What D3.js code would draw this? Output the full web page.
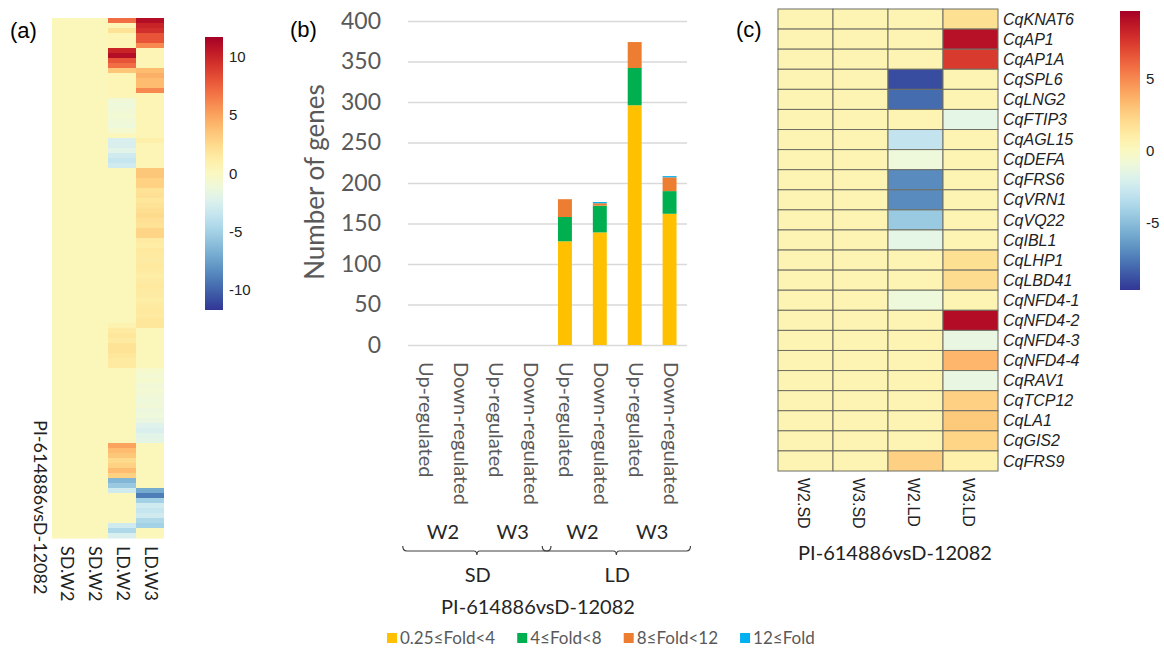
<!DOCTYPE html>
<html>
<head>
<meta charset="utf-8">
<script src="https://cdn.jsdelivr.net/npm/d3@7"></script>
<style>
  body { margin: 0; background: #fff; }
  svg { display: block; }
</style>
</head>
<body>
<svg class="vis" width="1164" height="661"></svg>
<script>

// ---- (a) heatmap: log2 fold change, one value per gene row (top to bottom)
const heatACols = ['SD.W2', 'SD.W2', 'LD.W2', 'LD.W3'];

const sdW2 = [
  0.3,0.3,0.3,0.3,0.3,0.3,0.3,0.3,0.3,0.3,0.3,0.3,0.3,
  0.3,0.3,0.3,0.3,0.3,0.3,0.3,0.3,0.3,0.3,0.3,0.3,0.3,
  0.3,0.3,0.3,0.3,0.3,0.3,0.3,0.3,0.3,0.3,0.3,0.3,0.3,
  0.3,0.3,0.3,0.3,0.3,0.3,0.3,0.3,0.3,0.3,0.3,0.3,0.3,
  0.3,0.3,0.3,0.3,0.3,0.3,0.3,0.3,0.3,0.3,0.3,0.3,0.3,
  0.3,0.3,0.3,0.3,0.3,0.3,0.3,0.3,0.3,0.3,0.3,0.3,0.3,
  0.3,0.3,0.3,0.3,0.3,0.3,0.3,0.3,0.3,0.3,0.3,0.3,0.3,
  0.3,0.3,0.3,0.3,0.3,0.3,0.3,0.3,0.3,0.3,0.3,0.3,0.3
];
const sdW3 = [
  0.3,0.3,0.3,0.3,0.3,0.3,0.3,0.3,0.3,0.3,0.3,0.3,0.3,
  0.3,0.3,0.3,0.3,0.3,0.3,0.3,0.3,0.3,0.3,0.3,0.3,0.3,
  0.3,0.3,0.3,0.3,0.3,0.3,0.3,0.3,0.3,0.3,0.3,0.3,0.3,
  0.3,0.3,0.3,0.3,0.3,0.3,0.3,0.3,0.3,0.3,0.3,0.3,0.3,
  0.3,0.3,0.3,0.3,0.3,0.3,0.3,0.3,0.3,0.3,0.3,0.3,0.3,
  0.3,0.3,0.3,0.3,0.3,0.3,0.3,0.3,0.3,0.3,0.3,0.3,0.3,
  0.3,0.3,0.3,0.3,0.3,0.3,0.3,0.3,0.3,0.3,0.3,0.3,0.3,
  0.3,0.3,0.3,0.3,0.3,0.3,0.3,0.3,0.3,0.3,0.3,0.3,0.3
];
const ldW2 = [
  7,0.5,2,0.5,0.5,0.5,10,11,8,7,
  3.5,0.5,0.5,0.5,0.5,0.5,-1,-1.2,-1,-0.8,
  -1,-1.2,-0.7,0.2,-2.5,-2.5,-2,-3,-3.5,-3,
  0.3,0.3,0.3,0.3,0.3,0.3,0.3,0.3,0.3,0.3,0.3,
  0.3,0.3,0.3,0.3,0.3,0.3,0.3,0.3,0.3,0.3,
  0.3,0.3,0.3,0.3,0.3,0.3,0.3,0.3,0.3,0.3,
  0.8,1.5,1.8,1.5,2,2,1.8,1.5,1.5,
  0.3,0.3,0.3,0.3,0.3,0.3,0.3,0.3,0.3,0.3,0.3,0.3,0.3,0.3,0.3,
  5,4,3.5,2.5,3,4,3,
  -6.5,-5.5,-3,
  0.3,0.3,0.3,0.3,0.3,0.3,
  -3,-4.5,-2.5
];
const ldW3 = [
  11,10,9.5,8,8,6,
  0.5,0.5,0.5,0.5,
  4,4.5,4,4,6,
  0.5,0.5,0.5,0.5,0.5,0.5,0.5,0.5,0.5,1,0.5,0.5,0.5,0.5,0.5,
  3.5,3.5,3,3,
  2,2.2,1.8,2,2.3,2.5,2.2,2,2.8,2.8,
  1.5,1.3,1.6,1.5,1.4,1.6,1.5,1.3,1.4,1.6,1.5,1.4,1.3,1.5,1.6,1.5,1.8,1.8,
  0.3,0.3,0.3,0.3,0.3,0.3,0.3,0.3,
  -0.5,-0.8,-0.6,-1,-0.8,-1,-1.2,-1,-1.3,-1.2,-1.5,-2.2,-2.5,-2,-1.8,
  0.3,0.3,0.3,0.3,0.3,0.3,0.3,0.3,0.3,
  -7,-9,-5,-3,-3.5,-3,-4.5,-5,
  0.3,0.3
];
const heatATicks = [-10, -5, 0, 5, 10];

// ---- (b) stacked bars: number of DEGs per fold class
const barCats = ['Up-regulated', 'Down-regulated', 'Up-regulated', 'Down-regulated',
                 'Up-regulated', 'Down-regulated', 'Up-regulated', 'Down-regulated'];
const weekLabels = ['W2', 'W3', 'W2', 'W3'];
const dayLabels = ['SD', 'LD'];
const foldKeys = ['0.25≤Fold<4', '4≤Fold<8', '8≤Fold<12', '12≤Fold'];
const fold0 = [0, 0, 0, 0, 128, 139, 296, 162];
const fold1 = [0, 0, 0, 0, 30, 33, 46, 28];
const fold2 = [0, 0, 0, 0, 22, 3, 32, 17];
const fold3 = [0, 0, 0, 0, 0, 1.5, 0, 1.5];
const foldColors = ['#ffc000', '#00b050', '#ed7d31', '#00b0f0'];

// ---- (c) heatmap of flowering genes
const genes = ['CqKNAT6', 'CqAP1', 'CqAP1A', 'CqSPL6', 'CqLNG2', 'CqFTIP3', 'CqAGL15', 'CqDEFA',
               'CqFRS6', 'CqVRN1', 'CqVQ22', 'CqIBL1', 'CqLHP1', 'CqLBD41', 'CqNFD4-1', 'CqNFD4-2',
               'CqNFD4-3', 'CqNFD4-4', 'CqRAV1', 'CqTCP12', 'CqLA1', 'CqGIS2', 'CqFRS9'];
const heatCCols = ['W2.SD', 'W3.SD', 'W2.LD', 'W3.LD'];
const cW2SD = [0.5,0.5,0.5,0.5,0.5,0.5,0.5,0.5,0.5,0.5,0.5,0.5,0.5,0.5,0.5,0.5,0.5,0.5,0.5,0.5,0.5,0.5,0.5];
const cW3SD = [0.5,0.5,0.5,0.5,0.5,0.5,0.5,0.5,0.5,0.5,0.5,0.5,0.5,0.5,0.5,0.5,0.5,0.5,0.5,0.5,0.5,0.5,0.5];
const cW2LD = [0.5,0.5,0.5,-9,-8,0.5,-3,-1,-7,-7,-4.5,-1.5,0.5,0.5,-1,0.5,0.5,0.5,0.5,0.5,0.5,0.5,2.5];
const cW3LD = [1.8,9,7.5,0.5,0.5,-1.5,0.5,0.5,0.5,0.5,0.5,0.5,1.8,2,0.5,9.2,-1.3,3.5,-1.3,2.5,2.8,2.3,0.8];
const heatCTicks = [-5, 0, 5];

const titleText = 'PI-614886vsD-12082';

const v = {

  svg: d3.select('svg.vis'),

  color: (max) => (val) => d3.interpolateRdYlBu(0.5 - val / (2 * max)),

  colorbar: (id, x, y0, y1, w, max, ticks) => {

    const svg = v.svg;
    const grad = svg.append('defs').append('linearGradient')
      .attr('id', id).attr('x1', 0).attr('x2', 0).attr('y1', 1).attr('y2', 0);
    d3.range(0, 1.0001, 0.05).forEach(t => {
      grad.append('stop').attr('offset', t).attr('stop-color', d3.interpolateRdYlBu(1 - t));
    });

    const sc = d3.scaleLinear().domain([-max, max]).range([y1, y0]);

    svg.append('rect')
      .attr('x', x).attr('y', y0).attr('width', w).attr('height', y1 - y0)
      .attr('fill', `url(#${id})`);

    svg.append('g')
      .selectAll('text').data(ticks).join('text')
      .attr('x', x + w + 6).attr('y', d => sc(d))
      .attr('dy', '0.35em')
      .style('font', '15px "Liberation Sans", Arial, sans-serif')
      .attr('fill', '#222')
      .text(d => d);
  },

  panelA: () => {

    const svg = v.svg;
    const cols = [sdW2, sdW3, ldW2, ldW3];
    const max = 11.7;
    const col = v.color(max);

    const x = d3.scaleBand().domain(d3.range(cols.length)).range([52, 164]);
    const y = d3.scaleBand().domain(d3.range(ldW2.length)).range([18, 538]);

    const cells = [];
    cols.forEach((arr, c) => arr.forEach((val, r) => cells.push({ c, r, val })));

    svg.append('g')
      .selectAll('rect').data(cells).join('rect')
      .attr('x', d => x(d.c))
      .attr('y', d => y(d.r))
      .attr('width', x.bandwidth())
      .attr('height', y.bandwidth() + 0.5)
      .attr('fill', d => col(d.val));

    svg.append('g')
      .selectAll('text').data(heatACols).join('text')
      .attr('transform', (d, i) => `translate(${x(i) + x.bandwidth() / 2 + 1},546) rotate(90)`)
      .attr('dy', '0.35em')
      .style('font', '18px Lato, sans-serif')
      .attr('fill', '#222')
      .text(d => d);

    svg.append('text')
      .attr('transform', 'translate(40,420) rotate(90)')
      .attr('dy', '0.35em')
      .style('font', '18px Lato, sans-serif')
      .attr('fill', '#222')
      .text(titleText);

    svg.append('text')
      .attr('x', 10).attr('y', 38)
      .style('font', '22px "Liberation Sans", Arial, sans-serif')
      .text('(a)');

    v.colorbar('gradA', 205, 37, 310, 18, max, heatATicks);
  },

  panelB: () => {

    const svg = v.svg;
    const x = d3.scaleBand().domain(d3.range(barCats.length)).range([408, 687])
      .paddingInner(0.6).paddingOuter(0.3);
    const y = d3.scaleLinear().domain([0, 400]).range([345, 21]);

    const rows = barCats.map((c, i) => ({ i, f0: fold0[i], f1: fold1[i], f2: fold2[i], f3: fold3[i] }));
    const series = d3.stack().keys(['f0', 'f1', 'f2', 'f3'])(rows);

    const ax = svg.append('g')
      .attr('transform', 'translate(408,0)')
      .call(d3.axisLeft(y).ticks(8).tickSize(-279).tickPadding(27));
    ax.select('.domain').remove();
    ax.selectAll('.tick line').attr('stroke', '#d9d9d9').attr('stroke-width', 1.5);
    ax.selectAll('.tick text')
      .style('font', '23px Lato, sans-serif')
      .attr('fill', '#595959');

    svg.append('g')
      .selectAll('g').data(series).join('g')
      .attr('fill', (d, i) => foldColors[i])
      .selectAll('rect').data(d => d).join('rect')
      .attr('x', d => x(d.data.i))
      .attr('y', d => y(d[1]))
      .attr('width', x.bandwidth())
      .attr('height', d => y(d[0]) - y(d[1]));

    svg.append('text')
      .attr('transform', 'translate(315,182) rotate(-90)')
      .attr('text-anchor', 'middle')
      .attr('dy', '0.35em')
      .style('font', '26px Lato, sans-serif')
      .attr('fill', '#595959')
      .text('Number of genes');

    svg.append('g')
      .selectAll('text').data(barCats).join('text')
      .attr('transform', (d, i) => `translate(${x(i) + x.bandwidth() / 2 + 1},362) rotate(90)`)
      .attr('dy', '0.35em')
      .style('font', '20px Lato, sans-serif')
      .attr('fill', '#595959')
      .text(d => d);

    // week labels centered over each pair of bars
    const step = x.step();
    svg.append('g')
      .selectAll('text').data(weekLabels).join('text')
      .attr('x', (d, i) => x(i * 2) + x.bandwidth() / 2 + step / 2)
      .attr('y', 532)
      .attr('dy', '0.35em')
      .attr('text-anchor', 'middle')
      .style('font', '20px Lato, sans-serif')
      .attr('fill', '#262626')
      .text(d => d);

    // braces under each photoperiod
    const brace = (x0, x1, yb) => {
      const cx = (x0 + x1) / 2;
      return `M${x0},${yb - 5} q0,5 4,5 H${cx - 3} q3,0 3,4 q0,-4 3,-4 H${x1 - 4} q4,0 4,-5`;
    };
    svg.append('g')
      .selectAll('path').data(dayLabels).join('path')
      .attr('d', (d, i) => {
        const x0 = x(i * 4) - step * 0.45;
        const x1 = x(i * 4 + 3) + x.bandwidth() + step * 0.4;
        return brace(x0, x1, 551);
      })
      .attr('fill', 'none')
      .attr('stroke', '#404040')
      .attr('stroke-width', 1.2);

    svg.append('g')
      .selectAll('text').data(dayLabels).join('text')
      .attr('x', (d, i) => (x(i * 4) + x(i * 4 + 3) + x.bandwidth()) / 2)
      .attr('y', 575)
      .attr('dy', '0.35em')
      .attr('text-anchor', 'middle')
      .style('font', '20px Lato, sans-serif')
      .attr('fill', '#262626')
      .text(d => d);

    svg.append('text')
      .attr('x', 538).attr('y', 607)
      .attr('dy', '0.35em')
      .attr('text-anchor', 'middle')
      .style('font', '20px Lato, sans-serif')
      .attr('fill', '#262626')
      .text(titleText);

    // legend, items laid out left to right after measuring each label
    const lg = svg.append('g')
      .selectAll('g').data(foldKeys).join('g');
    lg.append('rect')
      .attr('x', 0).attr('y', -5).attr('width', 10).attr('height', 10)
      .attr('fill', (d, i) => foldColors[i]);
    lg.append('text')
      .attr('x', 13).attr('dy', '0.35em')
      .style('font', '17px Lato, sans-serif')
      .attr('fill', '#595959')
      .text(d => d);
    let lx = 387;
    lg.each(function () {
      d3.select(this).attr('transform', `translate(${lx},638)`);
      lx += 13 + this.querySelector('text').getComputedTextLength() + 22;
    });

    svg.append('text')
      .attr('x', 290).attr('y', 37)
      .style('font', '22px "Liberation Sans", Arial, sans-serif')
      .text('(b)');
  },

  panelC: () => {

    const svg = v.svg;
    const cols = [cW2SD, cW3SD, cW2LD, cW3LD];
    const max = 9.7;
    const col = v.color(max);

    const x = d3.scaleBand().domain(d3.range(cols.length)).range([778, 998]);
    const y = d3.scaleBand().domain(genes).range([9, 471]);

    const cells = [];
    cols.forEach((arr, c) => arr.forEach((val, r) => cells.push({ c, g: genes[r], val })));

    svg.append('g')
      .selectAll('rect').data(cells).join('rect')
      .attr('x', d => x(d.c))
      .attr('y', d => y(d.g))
      .attr('width', x.bandwidth())
      .attr('height', y.bandwidth())
      .attr('fill', d => col(d.val))
      .attr('stroke', '#6f6f62')
      .attr('stroke-width', 1);

    svg.append('g')
      .selectAll('text').data(genes).join('text')
      .attr('x', 1003)
      .attr('y', d => y(d) + y.bandwidth() / 2)
      .attr('dy', '0.35em')
      .style('font', 'italic 16px "Liberation Sans", Arial, sans-serif')
      .attr('fill', '#222')
      .text(d => d);

    svg.append('g')
      .selectAll('text').data(heatCCols).join('text')
      .attr('transform', (d, i) => `translate(${x(i) + x.bandwidth() / 2 - 2},478) rotate(90)`)
      .attr('dy', '0.35em')
      .style('font', '16px "Liberation Sans", Arial, sans-serif')
      .attr('fill', '#222')
      .text(d => d);

    svg.append('text')
      .attr('x', 895).attr('y', 553)
      .attr('dy', '0.35em')
      .attr('text-anchor', 'middle')
      .style('font', '20px Lato, sans-serif')
      .attr('fill', '#222')
      .text(titleText);

    svg.append('text')
      .attr('x', 736).attr('y', 37)
      .style('font', '22px "Liberation Sans", Arial, sans-serif')
      .text('(c)');

    v.colorbar('gradC', 1120, 11, 290, 20, max, heatCTicks);
  },

  init: () => {
    v.panelA();
    v.panelB();
    v.panelC();
  }

};

v.init();
</script>
</body>
</html>
